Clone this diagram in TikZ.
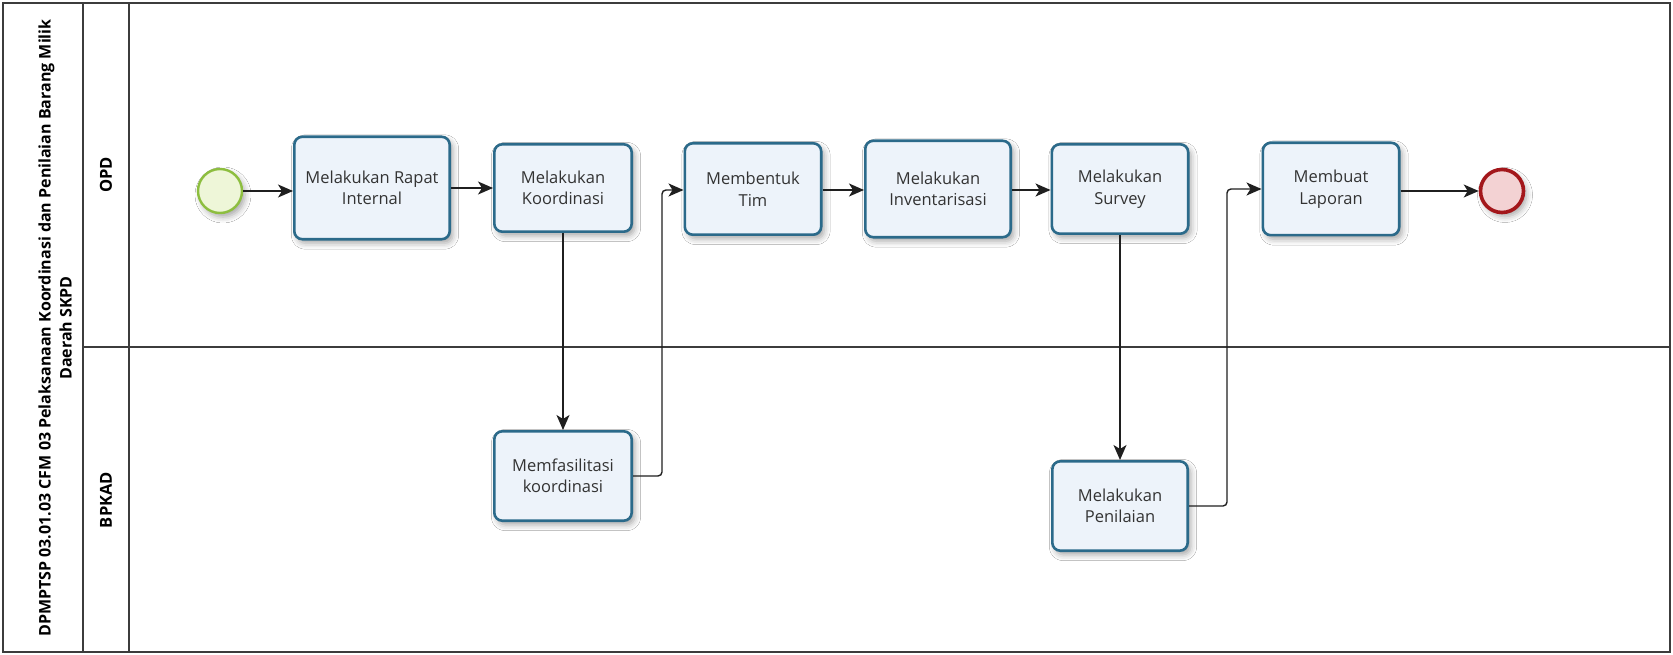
\documentclass[tikz,border=0pt]{standalone}
\usepackage{fontspec}
\setmainfont{Open Sans}
\usetikzlibrary{arrows.meta,shadows.blur,calc}
\definecolor{taskborder}{HTML}{2B6A8A}
\definecolor{taskfill}{HTML}{EDF3FA}
\definecolor{txt}{HTML}{333333}
\definecolor{startborder}{HTML}{8DBE3F}
\definecolor{startfill}{HTML}{EEF6D8}
\definecolor{endborder}{HTML}{A3171B}
\definecolor{endfill}{HTML}{F3D2D3}
\definecolor{framec}{HTML}{3C3C3C}
\begin{document}
\begin{tikzpicture}[x=1pt,y=-1pt,
  shd/.style={blur shadow={shadow xshift=3pt, shadow yshift=-4pt, shadow blur radius=6pt, shadow opacity=35}},
  task/.style={draw=taskborder, line width=2.6pt, fill=taskfill, rounded corners=8pt, align=center,
    font=\fontsize{16.5}{21.5}\selectfont, text=txt, inner sep=0pt, shd},
  sz/.style 2 args={minimum width=#1pt-2.6pt, minimum height=#2pt-2.6pt},
  startev/.style={circle, draw=startborder, line width=2.4pt, fill=startfill, minimum size=44pt, inner sep=0pt, shd},
  endev/.style={circle, draw=endborder, line width=3.6pt, fill=endfill, minimum size=43pt, inner sep=0pt, shd},
  flow/.style={draw=black!88, line width=1.4pt, rounded corners=4pt, -{Stealth[length=15pt,width=13pt,inset=4pt]}},
  framel/.style={draw=framec, line width=1.3pt},
  lanelbl/.style={font=\bfseries\fontsize{16.5}{18}\selectfont, rotate=90, text=black},
  titlelbl/.style={font=\bfseries\fontsize{16}{21}\selectfont, rotate=90, align=center, text=black}
]
\useasboundingbox (0,0) rectangle (1673,655);
\fill[white] (0,0) rectangle (1673,655);
% pool frame
\draw[framel] (3,3) rectangle (1670,652);
\draw[framel] (83,3) -- (83,652);
\draw[framel] (129,3) -- (129,652);
\draw[framel] (83,347) -- (1670,347);
% labels
\node[titlelbl] (title) at (55,328) {DPMPTSP 03.01.03 CFM 03 Pelaksanaan Koordinasi dan Penilaian Barang Milik\\Daerah SKPD};
\node[lanelbl] (lopd) at (106,175) {OPD};
\node[lanelbl] (lbpkad) at (106,500) {BPKAD};
% events and tasks
\node[startev] (start) at (220,191) {};
\node[task, sz={158}{105}] (t1) at (372,188) {Melakukan Rapat\\Internal};
\node[task, sz={140}{90}] (t2) at (563,188) {Melakukan\\Koordinasi};
\node[task, sz={139}{94}] (t3) at (753,189) {Membentuk\\Tim};
\node[task, sz={148}{99}] (t4) at (938,189) {Melakukan\\Inventarisasi};
\node[task, sz={139}{92}] (t5) at (1120,189) {Melakukan\\Survey};
\node[task, sz={139}{95}] (t6) at (1331,189) {Membuat\\Laporan};
\node[endev] (end) at (1502,191) {};
\node[task, sz={140}{92}] (b1) at (563,476) {Memfasilitasi\\koordinasi};
\node[task, sz={138}{92}] (b2) at (1120,506) {Melakukan\\Penilaian};
\coordinate (j1) at (662,190);
\coordinate (j2) at (1227,189);
% flows
\draw[flow] (start) -- (start -| t1.west);
\draw[flow] (t1.east |- 0,188) -- (t2.west);
\draw[flow] (t2) -- (b1);
\draw[flow] (b1.east) -| (j1) -- (t3.west |- j1);
\draw[flow] (t3.east |- j1) -- (t4.west |- j1);
\draw[flow] (t4.east |- j1) -- (t5.west |- j1);
\draw[flow] (t5) -- (b2);
\draw[flow] (b2.east) -| (j2) -- (t6.west |- j2);
\draw[flow] (t6.east |- end) -- (end);
\end{tikzpicture}
\end{document}
